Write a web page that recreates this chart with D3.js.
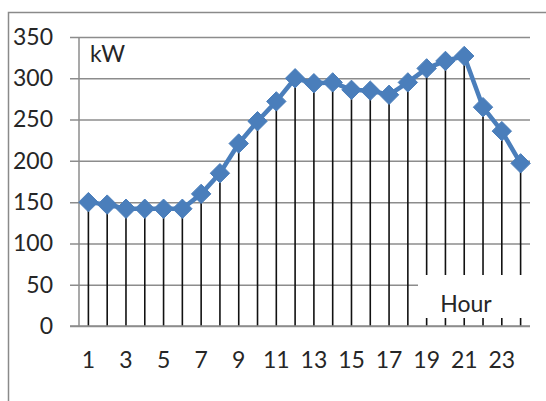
<!DOCTYPE html>
<html><head><meta charset="utf-8">
<script src="https://cdn.jsdelivr.net/npm/d3@7"></script>
<style>html,body{margin:0;padding:0;background:#fff;overflow:hidden}</style>
</head><body>
<svg id="c" width="546" height="401"></svg>
<script>
const hours = [1,2,3,4,5,6,7,8,9,10,11,12,13,14,15,16,17,18,19,20,21,22,23,24];
const loadKW = [150,147,142,142,142,142,160,185,221,248,272,300,294,295,286,285,280,295,312,321,327,265,236,197];
const yTicks = [0,50,100,150,200,250,300,350];
const xTickLabels = [1,3,5,7,9,11,13,15,17,19,21,23];
const yUnit = "kW";
const xTitle = "Hour";

const svg = d3.select("#c");
const font = "Lato, 'Open Sans', sans-serif";
const fs = 23;
const L = 79, R = 530, T = 37, B = 326;
const x = d3.scaleBand().domain(hours).range([L, R]);
const y = d3.scaleLinear().domain([0, 350]).range([B, T]);
const cx = d => x(d) + x.bandwidth() / 2;

// chart border
svg.append("path").attr("d", `M8.5,401 V12.5 H546`).attr("fill", "none")
  .attr("stroke", "#8a8a8a").attr("stroke-width", 1.5);

// gridlines + tick labels
const yAxis = d3.axisLeft(y).tickValues(yTicks).tickSize(0).tickPadding(0);
const gy = svg.append("g").attr("transform", `translate(${L - 9},0)`).call(yAxis);
gy.select(".domain").remove();
gy.selectAll(".tick line").attr("stroke", "#8c8c8c").attr("stroke-width", 1.5)
  .attr("x1", 0).attr("x2", R - L + 9);
gy.selectAll(".tick text").attr("font-family", font).attr("font-size", fs).attr("fill", "#262626")
  .attr("x", -17).attr("text-anchor", "end");

// y axis line
svg.append("line").attr("x1", L).attr("x2", L).attr("y1", T).attr("y2", B)
  .attr("stroke", "#8c8c8c").attr("stroke-width", 1.5);

// drop lines
svg.append("g").selectAll("line").data(hours).join("line")
  .attr("x1", (d) => cx(d)).attr("x2", (d) => cx(d))
  .attr("y1", (d, i) => y(loadKW[i])).attr("y2", y(0))
  .attr("stroke", "#111").attr("stroke-width", 1.6);

// Hour title box
svg.append("rect").attr("x", 418).attr("y", 275).attr("width", 113).attr("height", 43).attr("fill", "#fff");
svg.append("text").attr("x", 466).attr("y", 312).attr("text-anchor", "middle")
  .attr("font-family", font).attr("font-size", fs).attr("fill", "#262626").text(xTitle);

// x axis line
svg.append("line").attr("x1", L - 9).attr("x2", R).attr("y1", B).attr("y2", B)
  .attr("stroke", "#8c8c8c").attr("stroke-width", 1.5);

// x tick labels
const xAxis = d3.axisBottom(x).tickValues(xTickLabels).tickSize(0).tickPadding(26);
const gx = svg.append("g").attr("transform", `translate(0,${B})`).call(xAxis);
gx.select(".domain").remove();
gx.selectAll(".tick text").attr("font-family", font).attr("font-size", fs).attr("fill", "#262626");

// series line
const line = d3.line().x((d, i) => cx(hours[i])).y(d => y(d));
svg.append("path").datum(loadKW).attr("d", line).attr("fill", "none")
  .attr("stroke", "#4a7ebb").attr("stroke-width", 4.5).attr("stroke-linejoin", "round");

// diamond markers
const sym = d3.symbol().type(d3.symbolDiamond2).size(240);
svg.append("g").selectAll("path").data(loadKW).join("path")
  .attr("transform", (d, i) => `translate(${cx(hours[i])},${y(d)})`)
  .attr("d", sym).attr("fill", "#4a7ebb").attr("stroke", "#4a7ebb").attr("stroke-width", 1);

// unit label
svg.append("text").attr("x", 90).attr("y", 62).attr("font-family", font).attr("font-size", fs)
  .attr("fill", "#262626").text(yUnit);
</script>
</body></html>
